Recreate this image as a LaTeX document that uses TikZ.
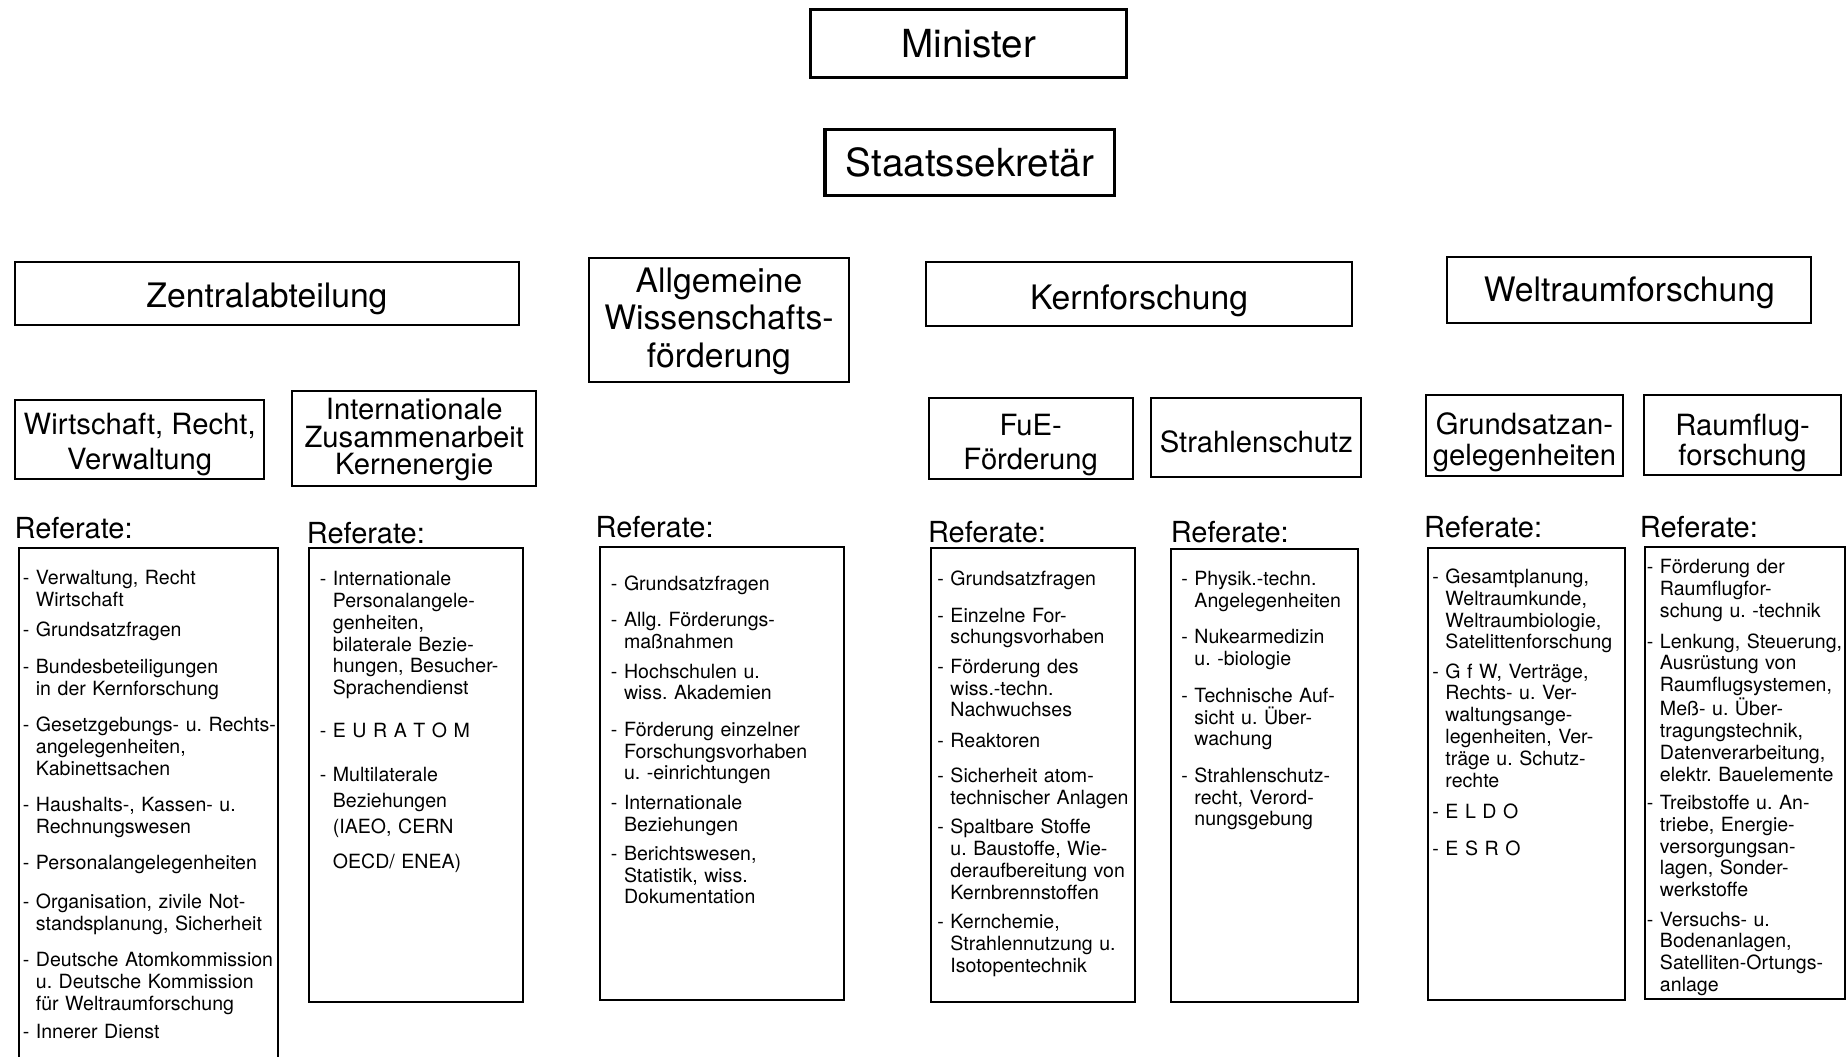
\documentclass[tikz,border=0pt]{standalone}
\usepackage{fontspec}
\setmainfont{TeX Gyre Heros}
\frenchspacing

\newlength{\strichbreite}
\newcommand{\zeile}{\\\settowidth{\strichbreite}{-\ }\hspace*{\strichbreite}}
\newcommand{\oben}[1]{\rule{0pt}{#1}}

\begin{document}
\begin{tikzpicture}[x=0.5pt,y=-0.5pt,
    chefbox/.style={draw, line width=1.3pt, inner sep=0pt,
        font=\fontsize{16.4}{19}\selectfont},
    abtbox/.style={draw, line width=0.85pt, inner sep=0pt, align=center,
        font=\fontsize{14.3}{16}\selectfont},
    grpbox/.style={draw, line width=0.85pt, inner sep=0pt, align=center,
        font=\fontsize{12.4}{14.5}\selectfont},
    tief/.style={execute at begin node={\oben{#1}}},
    reflabel/.style={anchor=base west, inner sep=0pt,
        font=\fontsize{12.3}{14}\selectfont},
    refbox/.style={draw, line width=0.85pt, anchor=north west, inner sep=0pt},
    reftext/.style={anchor=base west, inner sep=0pt, text width=150pt, align=left,
        font=\fontsize{8.3}{9.25}\selectfont}]
    \useasboundingbox (0,0) rectangle (1568,896);
    % Leitung
    \node[chefbox, minimum width=134pt, minimum height=29pt] (minister) at (822,37) {Minister};
    \node[chefbox, minimum width=123pt, minimum height=28pt] (staatssek) at (823,138) {Staatssekretär};
    % Abteilungen
    \node[abtbox, tief=15.3pt, minimum width=213.5pt, minimum height=27pt] (zentral) at (226.5,249) {Zentralabteilung};
    \node[abtbox, minimum width=110pt, minimum height=52.5pt] (allgemein) at (610,271.5)
        {\oben{11.5pt}Allgemeine\\Wissenschafts-\\förderung};
    \node[abtbox, tief=16.3pt, minimum width=180.5pt, minimum height=27.5pt] (kern) at (966.5,249.5) {Kernforschung};
    \node[abtbox, tief=13.3pt, minimum width=154.5pt, minimum height=28pt] (weltraum) at (1382.5,246) {Weltraumforschung};
    % Unterabteilungen
    \node[grpbox, minimum width=105.5pt, minimum height=33.5pt] (wirtschaft) at (118.5,372.5)
        {\oben{13.5pt}Wirtschaft, Recht,\\[0.5pt]Verwaltung};
    \node[grpbox, minimum width=103.5pt, minimum height=40pt] (intzus) at (351.5,372)
        {\oben{10pt}Internationale\\[-3pt]Zusammenarbeit\\[-3pt]Kernenergie};
    \node[grpbox, minimum width=86.5pt, minimum height=34pt] (fue) at (874.5,372) {\oben{14.3pt}FuE-\\Förderung};
    \node[grpbox, tief=13pt, minimum width=89pt, minimum height=33.5pt] (strahlen) at (1066,371.5) {Strahlenschutz};
    \node[grpbox, minimum width=83.5pt, minimum height=34.5pt] (grundsatz) at (1293.5,369.5)
        {\oben{15pt}Grundsatzan-\\[-1.5pt]gelegenheiten};
    \node[grpbox, minimum width=83.5pt, minimum height=34pt] (raumflug) at (1478.5,369)
        {\oben{16pt}Raumflug-\\[-2pt]forschung};
    % Referate
    \node[reflabel] (ref1) at (12,457) {Referate:};
    \node[reflabel] (ref2) at (260,461) {Referate:};
    \node[reflabel] (ref3) at (505,456) {Referate:};
    \node[reflabel] (ref4) at (787,460) {Referate:};
    \node[reflabel] (ref5) at (993,460) {Referate:};
    \node[reflabel] (ref6) at (1208,456) {Referate:};
    \node[reflabel] (ref7) at (1391,456) {Referate:};
    \node[refbox, minimum width=110pt, minimum height=218pt] (rahmen1) at (15,464) {};
    \node[refbox, minimum width=91pt, minimum height=192.5pt] (rahmen2) at (261,464) {};
    \node[refbox, minimum width=103.5pt, minimum height=192.5pt] (rahmen3) at (508,463) {};
    \node[refbox, minimum width=86.5pt, minimum height=192.5pt] (rahmen4) at (789,464) {};
    \node[refbox, minimum width=79pt, minimum height=192pt] (rahmen5) at (993,465) {};
    \node[refbox, minimum width=83.5pt, minimum height=192pt] (rahmen6) at (1211,464) {};
    \node[refbox, minimum width=85pt, minimum height=192pt] (rahmen7) at (1395,463) {};
    \node[reftext] (liste1) at (19,496) {- Verwaltung, Recht\zeile Wirtschaft
        \\[3.7pt]- Grundsatzfragen
        \\[6.2pt]- Bundesbeteiligungen\zeile in der Kernforschung
        \\[6.2pt]- Gesetzgebungs- u. Rechts-\zeile angelegenheiten,\zeile Kabinettsachen
        \\[6.2pt]- Haushalts-, Kassen- u.\zeile Rechnungswesen
        \\[6.2pt]- Personalangelegenheiten
        \\[7.2pt]- Organisation, zivile Not-\zeile standsplanung, Sicherheit
        \\[6.2pt]- Deutsche Atomkommission\zeile u. Deutsche Kommission\zeile für Weltraumforschung
        \\[2.7pt]- Innerer Dienst};
    \node[reftext] (liste2) at (271,497) {- Internationale\zeile Personalangele-\zeile genheiten,\zeile bilaterale Bezie-\zeile hungen, Besucher-\zeile Sprachendienst
        \\[8.7pt]- E U R A T O M
        \\[9.7pt]- Multilaterale\\[1.75pt]\hspace*{\strichbreite}Beziehungen\\[1.75pt]\hspace*{\strichbreite}(IAEO, CERN\\[5.75pt]\hspace*{\strichbreite}OECD/ ENEA)};
    \node[reftext] (liste3) at (518,501) {- Grundsatzfragen
        \\[6.2pt]- Allg. Förderungs-\zeile maßnahmen
        \\[3.2pt]- Hochschulen u.\zeile wiss. Akademien
        \\[6.2pt]- Förderung einzelner\zeile Forschungsvorhaben\zeile u. -einrichtungen
        \\[3.2pt]- Internationale\zeile Beziehungen
        \\[3.2pt]- Berichtswesen,\zeile Statistik, wiss.\zeile Dokumentation};
    \node[reftext] (liste4) at (795,497) {- Grundsatzfragen
        \\[6.2pt]- Einzelne For-\zeile schungsvorhaben
        \\[3.2pt]- Förderung des\zeile wiss.-techn.\zeile Nachwuchses
        \\[3.7pt]- Reaktoren
        \\[5.7pt]- Sicherheit atom-\zeile technischer Anlagen
        \\[3.2pt]- Spaltbare Stoffe\zeile u. Baustoffe, Wie-\zeile deraufbereitung von\zeile Kernbrennstoffen
        \\[3.2pt]- Kernchemie,\zeile Strahlennutzung u.\zeile Isotopentechnik};
    \node[reftext] (liste5) at (1002,497) {- Physik.-techn.\zeile Angelegenheiten
        \\[6.2pt]- Nukearmedizin\zeile u. -biologie
        \\[6.2pt]- Technische Auf-\zeile sicht u. Über-\zeile wachung
        \\[6.2pt]- Strahlenschutz-\zeile recht, Verord-\zeile nungsgebung};
    \node[reftext] (liste6) at (1215,495) {- Gesamtplanung,\zeile Weltraumkunde,\zeile Weltraumbiologie,\zeile Satelittenforschung
        \\[3.2pt]- G f W, Verträge,\zeile Rechts- u. Ver-\zeile waltungsange-\zeile legenheiten, Ver-\zeile träge u. Schutz-\zeile rechte
        \\[4.2pt]- E L D O
        \\[6.2pt]- E S R O};
    \node[reftext] (liste7) at (1397,487) {- Förderung der\zeile Raumflugfor-\zeile schung u. -technik
        \\[3.7pt]- Lenkung, Steuerung,\zeile Ausrüstung von\zeile Raumflugsystemen,\zeile Meß- u. Über-\zeile tragungstechnik,\zeile Datenverarbeitung,\zeile elektr. Bauelemente
        \\[2.7pt]- Treibstoffe u. An-\zeile triebe, Energie-\zeile versorgungsan-\zeile lagen, Sonder-\zeile werkstoffe
        \\[3.2pt]- Versuchs- u.\zeile Bodenanlagen,\zeile Satelliten-Ortungs-\zeile anlage};
\end{tikzpicture}
\end{document}
